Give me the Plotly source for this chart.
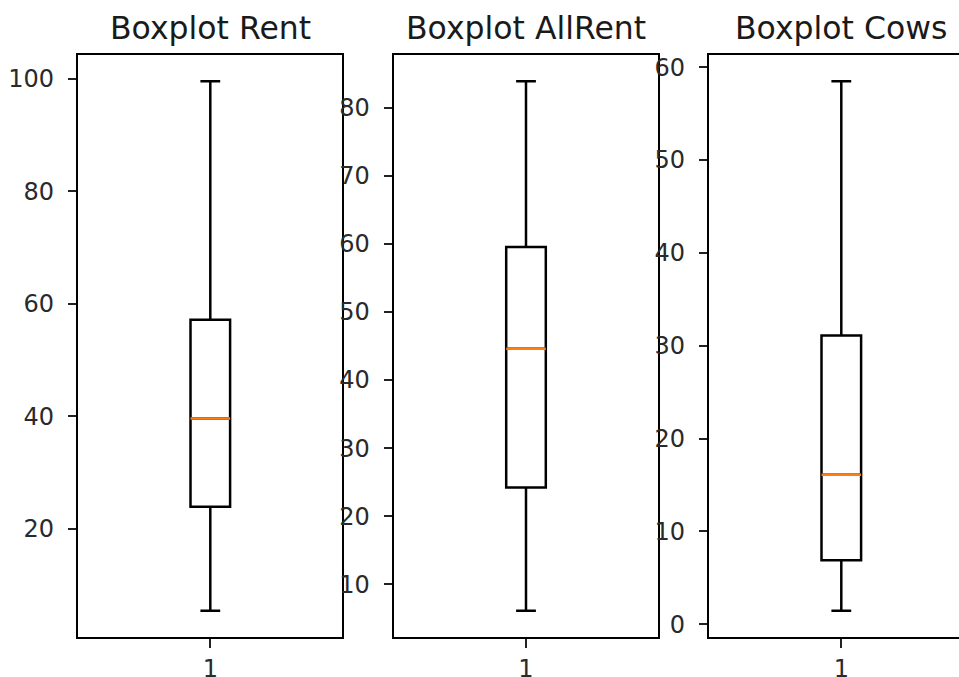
import plotly.graph_objects as go

# Five-number summaries for each variable
titles = ["Boxplot Rent", "Boxplot AllRent", "Boxplot Cows"]
lower_whisker = [5.4, 6.1, 1.45]
q1_values = [23.9, 24.2, 6.9]
medians = [39.6, 44.6, 16.1]
q3_values = [57.15, 59.55, 31.1]
upper_whisker = [99.55, 83.9, 58.5]
y_dticks = [20, 10, 10]
category_labels = ["1"]

W, H = 959, 677
TICK_FONT = 24
TITLE_FONT = 31.5
LW = 2.5          # box / whisker / median line width
SPINE = 2.0
BOX_W = 0.15      # box width in x units

# axes rectangles in pixels (left, right) and shared top/bottom
panels_px = [(78.3, 342.0), (394.0, 658.3), (709.3, 959.0)]
top_px, bottom_px = 54.7, 637.3
panel_w_px = 264.0

fig = go.Figure()

ydom = [(H - bottom_px) / H, (H - top_px) / H]

for i, (title, lo, q1, med, q3, hi, dt) in enumerate(
        zip(titles, lower_whisker, q1_values, medians, q3_values, upper_whisker, y_dticks)):
    n = i + 1
    xa = "x" if n == 1 else f"x{n}"
    ya = "y" if n == 1 else f"y{n}"
    left, right = panels_px[i]

    fig.add_trace(go.Box(
        x=[1], q1=[q1], median=[med], q3=[q3],
        lowerfence=[lo], upperfence=[hi],
        width=BOX_W, whiskerwidth=0.5,
        line=dict(color="black", width=LW),
        fillcolor="rgba(0,0,0,0)",
        boxpoints=False, showlegend=False, hoverinfo="skip",
        xaxis=xa, yaxis=ya,
    ))
    # median drawn in orange across the box
    fig.add_trace(go.Scatter(
        x=[1 - BOX_W / 2, 1 + BOX_W / 2], y=[med, med],
        mode="lines", line=dict(color="#ff7f0e", width=LW),
        showlegend=False, hoverinfo="skip",
        xaxis=xa, yaxis=ya,
    ))

    span = hi - lo
    yrange = [lo - 0.05 * span, hi + 0.05 * span]
    xmax = 0.5 + (right - left) / panel_w_px

    axis_common = dict(
        showgrid=False, zeroline=False, showline=True,
        linecolor="black", linewidth=SPINE,
        ticks="outside", ticklen=8.5, tickwidth=SPINE, tickcolor="#222",
        tickfont=dict(family="DejaVu Sans", size=TICK_FONT, color="#2a2a2a"),
        automargin=False,
    )
    fig.layout[f"xaxis{'' if n == 1 else n}"] = dict(
        axis_common,
        domain=[left / W, right / W],
        range=[0.5, xmax],
        tickmode="array", tickvals=[1], ticktext=category_labels,
        ticklabelstandoff=0,
        mirror=True,
        anchor=ya,
    )
    fig.layout[f"yaxis{'' if n == 1 else n}"] = dict(
        axis_common,
        domain=ydom,
        range=yrange,
        dtick=dt, tick0=0,
        ticklabelstandoff=9,
        mirror=(n != 3),
        anchor=xa,
    )

    fig.add_annotation(
        text=title, xref="paper", yref="paper",
        x=(left + panel_w_px / 2) / W, y=ydom[1],
        xanchor="center", yanchor="bottom", yshift=7,
        showarrow=False,
        font=dict(family="DejaVu Sans", size=TITLE_FONT, color="#1a1a1a"),
    )

fig.update_layout(
    width=W, height=H, autosize=False,
    margin=dict(l=0, r=0, t=0, b=0),
    plot_bgcolor="white", paper_bgcolor="white",
)

fig.write_html("out.html")
